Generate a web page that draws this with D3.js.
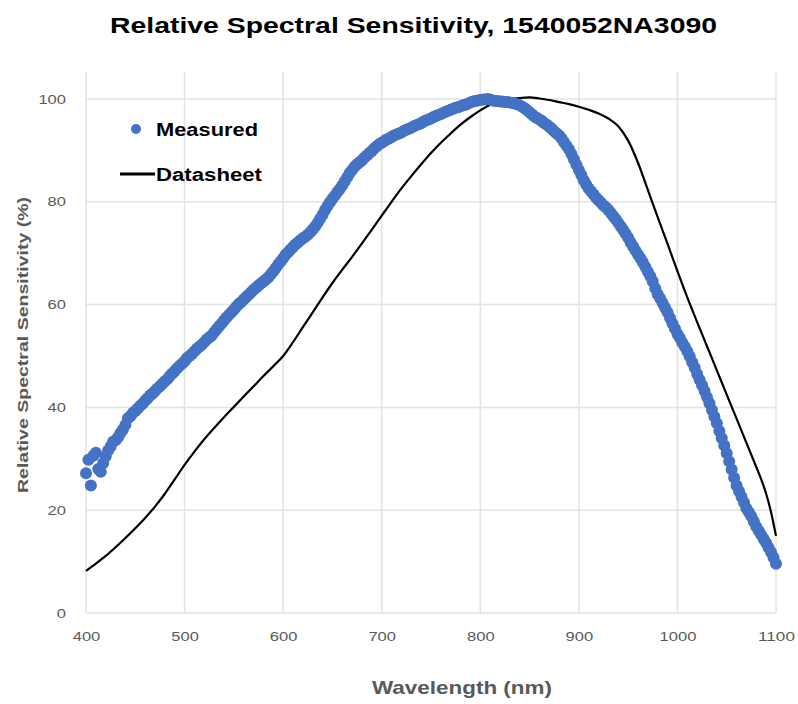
<!DOCTYPE html>
<html>
<head>
<meta charset="utf-8">
<script src="https://cdn.jsdelivr.net/npm/d3@7"></script>
<style>
  body { margin: 0; background: #fff; }
  text { font-family: "Liberation Sans", Arial, sans-serif; }
</style>
</head>
<body>
<svg width="798" height="704"></svg>
<script>
// measured points, every 2.5 nm from 400 to 1100 (one row = 25 nm)
const measuredNm = d3.range(400, 1100.1, 2.5);
const measuredVal = [
  27.2, 29.8, 24.8, 30.6, 31.2, 28.0, 27.5, 29.2, 30.5, 31.6,
  32.4, 33.3, 33.6, 34.2, 35.0, 35.7, 36.6, 37.9, 38.3, 38.9,
  39.3, 39.8, 40.3, 40.7, 41.3, 41.8, 42.3, 42.7, 43.2, 43.7,
  44.1, 44.6, 45.1, 45.5, 46.1, 46.6, 47.1, 47.6, 48.1, 48.5,
  49.0, 49.6, 50.0, 50.4, 50.9, 51.4, 51.8, 52.2, 52.7, 53.2,
  53.6, 54.0, 54.6, 55.2, 55.8, 56.3, 56.9, 57.5, 58.0, 58.5,
  59.0, 59.6, 60.1, 60.5, 61.0, 61.5, 61.9, 62.4, 62.9, 63.3,
  63.7, 64.1, 64.5, 64.9, 65.3, 65.9, 66.5, 67.1, 67.8, 68.4,
  69.0, 69.7, 70.2, 70.7, 71.2, 71.7, 72.1, 72.5, 72.9, 73.2,
  73.6, 74.1, 74.6, 75.2, 75.9, 76.7, 77.5, 78.4, 79.2, 79.9,
  80.6, 81.2, 81.9, 82.5, 83.2, 84.0, 84.8, 85.6, 86.2, 86.8,
  87.3, 87.7, 88.1, 88.6, 89.0, 89.5, 89.9, 90.4, 90.8, 91.2,
  91.5, 91.8, 92.1, 92.3, 92.6, 92.9, 93.1, 93.3, 93.5, 93.8,
  94.0, 94.2, 94.4, 94.7, 94.9, 95.1, 95.3, 95.6, 95.8, 96.0,
  96.2, 96.5, 96.7, 96.9, 97.1, 97.3, 97.5, 97.7, 97.9, 98.1,
  98.3, 98.4, 98.6, 98.8, 98.9, 99.1, 99.3, 99.5, 99.6, 99.7,
  99.8, 99.9, 99.9, 100.0, 99.9, 99.7, 99.6, 99.6, 99.5, 99.5,
  99.4, 99.4, 99.3, 99.2, 99.1, 99.0, 98.8, 98.5, 98.2, 97.8,
  97.4, 97.0, 96.6, 96.3, 96.0, 95.7, 95.3, 95.0, 94.6, 94.2,
  93.7, 93.3, 92.9, 92.3, 91.6, 90.9, 90.2, 89.3, 88.3, 87.2,
  86.2, 85.2, 84.2, 83.3, 82.6, 82.0, 81.4, 80.8, 80.3, 79.8,
  79.3, 78.9, 78.4, 77.8, 77.2, 76.6, 75.9, 75.2, 74.5, 73.8,
  73.0, 72.1, 71.3, 70.5, 69.7, 69.0, 68.2, 67.3, 66.4, 65.5,
  64.5, 63.2, 62.0, 61.2, 60.3, 59.4, 58.5, 57.4, 56.3, 55.3,
  54.3, 53.5, 52.6, 51.8, 50.9, 49.9, 48.8, 47.7, 46.5, 45.4,
  44.3, 43.2, 42.0, 40.8, 39.5, 38.2, 36.9, 35.4, 34.0, 32.6,
  31.1, 29.5, 27.9, 26.3, 24.8, 23.7, 22.6, 21.5, 20.4, 19.6,
  18.8, 17.8, 16.8, 16.0, 15.2, 14.4, 13.6, 12.7, 11.8, 10.8,
  9.6
];

// datasheet curve
const sheetNm = [400, 410, 420, 430, 440, 450, 460, 470, 480, 490, 500, 510, 520, 530, 540, 550,
  560, 570, 580, 590, 600, 610, 620, 630, 640, 650, 660, 670, 680, 690, 700, 710, 720, 730, 740,
  750, 760, 770, 780, 790, 800, 810, 820, 830, 840, 850, 860, 870, 880, 890, 900, 910, 920, 930,
  940, 950, 960, 970, 980, 990, 1000, 1010, 1020, 1030, 1040, 1050, 1060, 1070, 1080, 1085, 1090, 1095, 1100];
const sheetVal = [8.2, 9.6, 11.1, 12.8, 14.6, 16.5, 18.5, 20.7, 23.2, 26.0, 28.8, 31.4, 33.8, 36.0,
  38.1, 40.1, 42.1, 44.1, 46.1, 48.0, 50.0, 52.7, 55.6, 58.5, 61.4, 64.2, 66.8, 69.3, 71.9, 74.6,
  77.3, 80.0, 82.6, 85.0, 87.3, 89.5, 91.5, 93.3, 95.0, 96.5, 97.8, 98.9, 99.6, 100.0, 100.2, 100.3,
  100.1, 99.8, 99.4, 99.0, 98.5, 97.9, 97.2, 96.2, 94.7, 91.9, 87.6, 82.3, 77.0, 71.8, 66.5, 61.4,
  56.6, 51.9, 47.2, 42.5, 37.8, 33.1, 28.4, 26.0, 23.2, 19.6, 15.0];

const xTicks = [400, 500, 600, 700, 800, 900, 1000, 1100];
const yTicks = [0, 20, 40, 60, 80, 100];

const svg = d3.select("svg");
const plotLeft = 86, plotRight = 776, plotTop = 99, plotBottom = 613;

const x = d3.scaleLinear().domain([400, 1100]).range([plotLeft, plotRight]);
const y = d3.scaleLinear().domain([0, 100]).range([plotBottom, plotTop]);

// grid
svg.append("g").selectAll("line")
  .data(xTicks)
  .join("line")
  .attr("x1", d => x(d)).attr("x2", d => x(d))
  .attr("y1", 72).attr("y2", plotBottom)
  .attr("stroke", "#e3e3e3").attr("stroke-width", 1.5);
svg.append("g").selectAll("line")
  .data(yTicks)
  .join("line")
  .attr("x1", plotLeft).attr("x2", plotRight)
  .attr("y1", d => y(d)).attr("y2", d => y(d))
  .attr("stroke", "#e3e3e3").attr("stroke-width", 1.5);

// axes (labels only)
const xAxis = svg.append("g")
  .attr("transform", `translate(0,${plotBottom})`)
  .call(d3.axisBottom(x).tickValues(xTicks).tickSize(0).tickPadding(19).tickFormat(d3.format("d")));
const yAxis = svg.append("g")
  .attr("transform", `translate(${plotLeft},0)`)
  .call(d3.axisLeft(y).tickValues(yTicks).tickSize(0).tickPadding(20).tickFormat(d3.format("d")));
[xAxis, yAxis].forEach(a => {
  a.select(".domain").remove();
  a.selectAll("text")
    .attr("fill", "#595959")
    .style("font-size", "13px")
    .attr("textLength", d => String(d).length * 9.2)
    .attr("lengthAdjust", "spacingAndGlyphs");
});

// datasheet line
const line = d3.line()
  .x((d, i) => x(sheetNm[i]))
  .y(d => y(d))
  .curve(d3.curveMonotoneX);
svg.append("path")
  .datum(sheetVal)
  .attr("d", line)
  .attr("fill", "none")
  .attr("stroke", "#000")
  .attr("stroke-width", 2.2);

// measured dots
svg.append("g").selectAll("circle")
  .data(measuredVal)
  .join("circle")
  .attr("cx", (d, i) => x(measuredNm[i]))
  .attr("cy", d => y(d))
  .attr("r", 6)
  .attr("fill", "#4472c4");

// title
svg.append("text")
  .attr("x", 413.5).attr("y", 33)
  .attr("text-anchor", "middle")
  .attr("font-weight", "bold")
  .style("font-size", "22px")
  .attr("textLength", 607).attr("lengthAdjust", "spacingAndGlyphs")
  .text("Relative Spectral Sensitivity, 1540052NA3090");

// axis titles
svg.append("text")
  .attr("x", 462).attr("y", 694)
  .attr("text-anchor", "middle")
  .attr("font-weight", "bold")
  .attr("fill", "#595959")
  .style("font-size", "19px")
  .attr("textLength", 180).attr("lengthAdjust", "spacingAndGlyphs")
  .text("Wavelength (nm)");
svg.append("text")
  .attr("transform", "translate(28,345) rotate(-90)")
  .attr("text-anchor", "middle")
  .attr("font-weight", "bold")
  .attr("fill", "#595959")
  .style("font-size", "15px")
  .attr("textLength", 296).attr("lengthAdjust", "spacingAndGlyphs")
  .text("Relative Spectral Sensitivity (%)");

// legend
svg.append("circle").attr("cx", 136).attr("cy", 129).attr("r", 5).attr("fill", "#4472c4");
svg.append("text").attr("x", 156).attr("y", 136)
  .attr("font-weight", "bold").style("font-size", "18px")
  .attr("textLength", 102).attr("lengthAdjust", "spacingAndGlyphs")
  .text("Measured");
svg.append("line").attr("x1", 120).attr("x2", 155).attr("y1", 174).attr("y2", 174)
  .attr("stroke", "#000").attr("stroke-width", 3);
svg.append("text").attr("x", 156).attr("y", 181)
  .attr("font-weight", "bold").style("font-size", "18px")
  .attr("textLength", 106).attr("lengthAdjust", "spacingAndGlyphs")
  .text("Datasheet");
</script>
</body>
</html>
